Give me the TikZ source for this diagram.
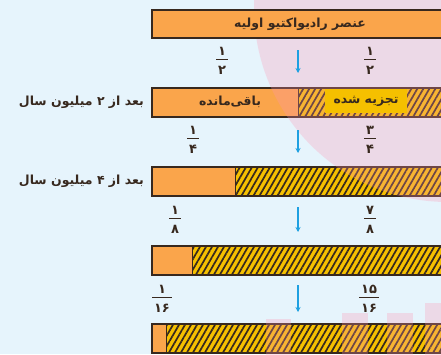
\documentclass[tikz,border=0pt]{standalone}
\usepackage{fontspec}
\newfontfamily\fa[Script=Arabic]{DejaVu Sans}
\TeXXeTstate=1
\usetikzlibrary{arrows.meta}
\usetikzlibrary{patterns.meta}
\definecolor{skybg}{RGB}{230,244,252}
\definecolor{pinkwm}{RGB}{255,150,180}
\definecolor{barorange}{RGB}{250,165,75}
\definecolor{decayyellow}{RGB}{245,192,0}
\definecolor{barline}{RGB}{55,40,30}
\definecolor{arrowblue}{RGB}{30,160,225}
\newcommand{\rtl}[1]{{\fa\bfseries\beginR #1\endR}}
\newcommand{\pfrac}[2]{{\setlength{\arrayrulewidth}{1.3pt}%
  \begin{tabular}{@{\hspace{2pt}}c@{\hspace{2pt}}}\fa\bfseries #1\\[-1pt]\hline\rule{0pt}{14pt}\fa\bfseries #2\end{tabular}}}

\begin{document}
\begin{tikzpicture}[x=1pt, y=-1pt,
    bar/.style={draw=barline, line width=1.2pt},
    hatch/.style={pattern={Lines[angle=60, distance=5.2pt, line width=1.7pt]}, pattern color=barline},
    lbl/.style={font=\fontsize{12.5}{14}\selectfont, text=barline, inner sep=1pt},
    frac/.style={font=\fontsize{13}{15}\selectfont, text=barline, inner sep=0pt},
    down/.style={arrowblue, line width=1.3pt, -{Stealth[length=5pt, width=5pt]}}]
\useasboundingbox (0,0) rectangle (441,354);
\fill[skybg] (0,0) rectangle (441,354);

% Bars after 2, 4, 6 and 8 million years
\foreach \ytop/\split in {88/298, 167/235, 246/192, 324/166} {
    \fill[barorange] (152,\ytop) rectangle (\split,\ytop+29);
    \fill[decayyellow] (\split,\ytop) rectangle (446,\ytop+29);
    \path[hatch] (\split,\ytop) rectangle (446,\ytop+29);
    \draw[barline, line width=1pt] (\split,\ytop) -- (\split,\ytop+29);
    \draw[bar] (152,\ytop) rectangle (446,\ytop+29);
}

% Watermark
\begin{scope}[fill opacity=0.28]
    \fill[pinkwm] (448,8) circle (194);
    \fill[pinkwm] (266,319) rectangle (291,360);
    \fill[pinkwm] (342,313) rectangle (368,360);
    \fill[pinkwm] (387,313) rectangle (413,360);
    \fill[pinkwm] (425,303) rectangle (446,360);
\end{scope}

% Initial element
\draw[bar, fill=barorange] (152,10) rectangle (446,38);
\node[lbl] (start) at (300,24) {\rtl{عنصر رادیواکتیو اولیه}};

% Bar labels
\node[lbl] (left) at (230,102) {\rtl{باقی‌مانده}};
\node[lbl, fill=decayyellow, minimum height=24pt, minimum width=82pt] (decayed) at (366,101) {\rtl{تجزیه شده}};
\node[lbl, anchor=east] (after2) at (145,102) {\rtl{بعد از ۲ میلیون سال}};
\node[lbl, anchor=east] (after4) at (145,181) {\rtl{بعد از ۴ میلیون سال}};

% Fractions
\node[frac] (r1) at (222,62) {\pfrac{۱}{۲}};
\node[frac] (d1) at (370,62) {\pfrac{۱}{۲}};
\node[frac] (r2) at (193,141) {\pfrac{۱}{۴}};
\node[frac] (d2) at (370,141) {\pfrac{۳}{۴}};
\node[frac] (r3) at (175,221) {\pfrac{۱}{۸}};
\node[frac] (d3) at (370,221) {\pfrac{۷}{۸}};
\node[frac] (r4) at (162,300) {\pfrac{۱}{۱۶}};
\node[frac] (d4) at (369,300) {\pfrac{۱۵}{۱۶}};

% Arrows
\foreach \i/\ya/\yb in {1/50/73, 2/130/153, 3/207/232, 4/285/312} {
    \coordinate (a\i) at (298,\ya);
    \coordinate (b\i) at (298,\yb);
    \draw[down] (a\i) -- (b\i);
}
\end{tikzpicture}
\end{document}
